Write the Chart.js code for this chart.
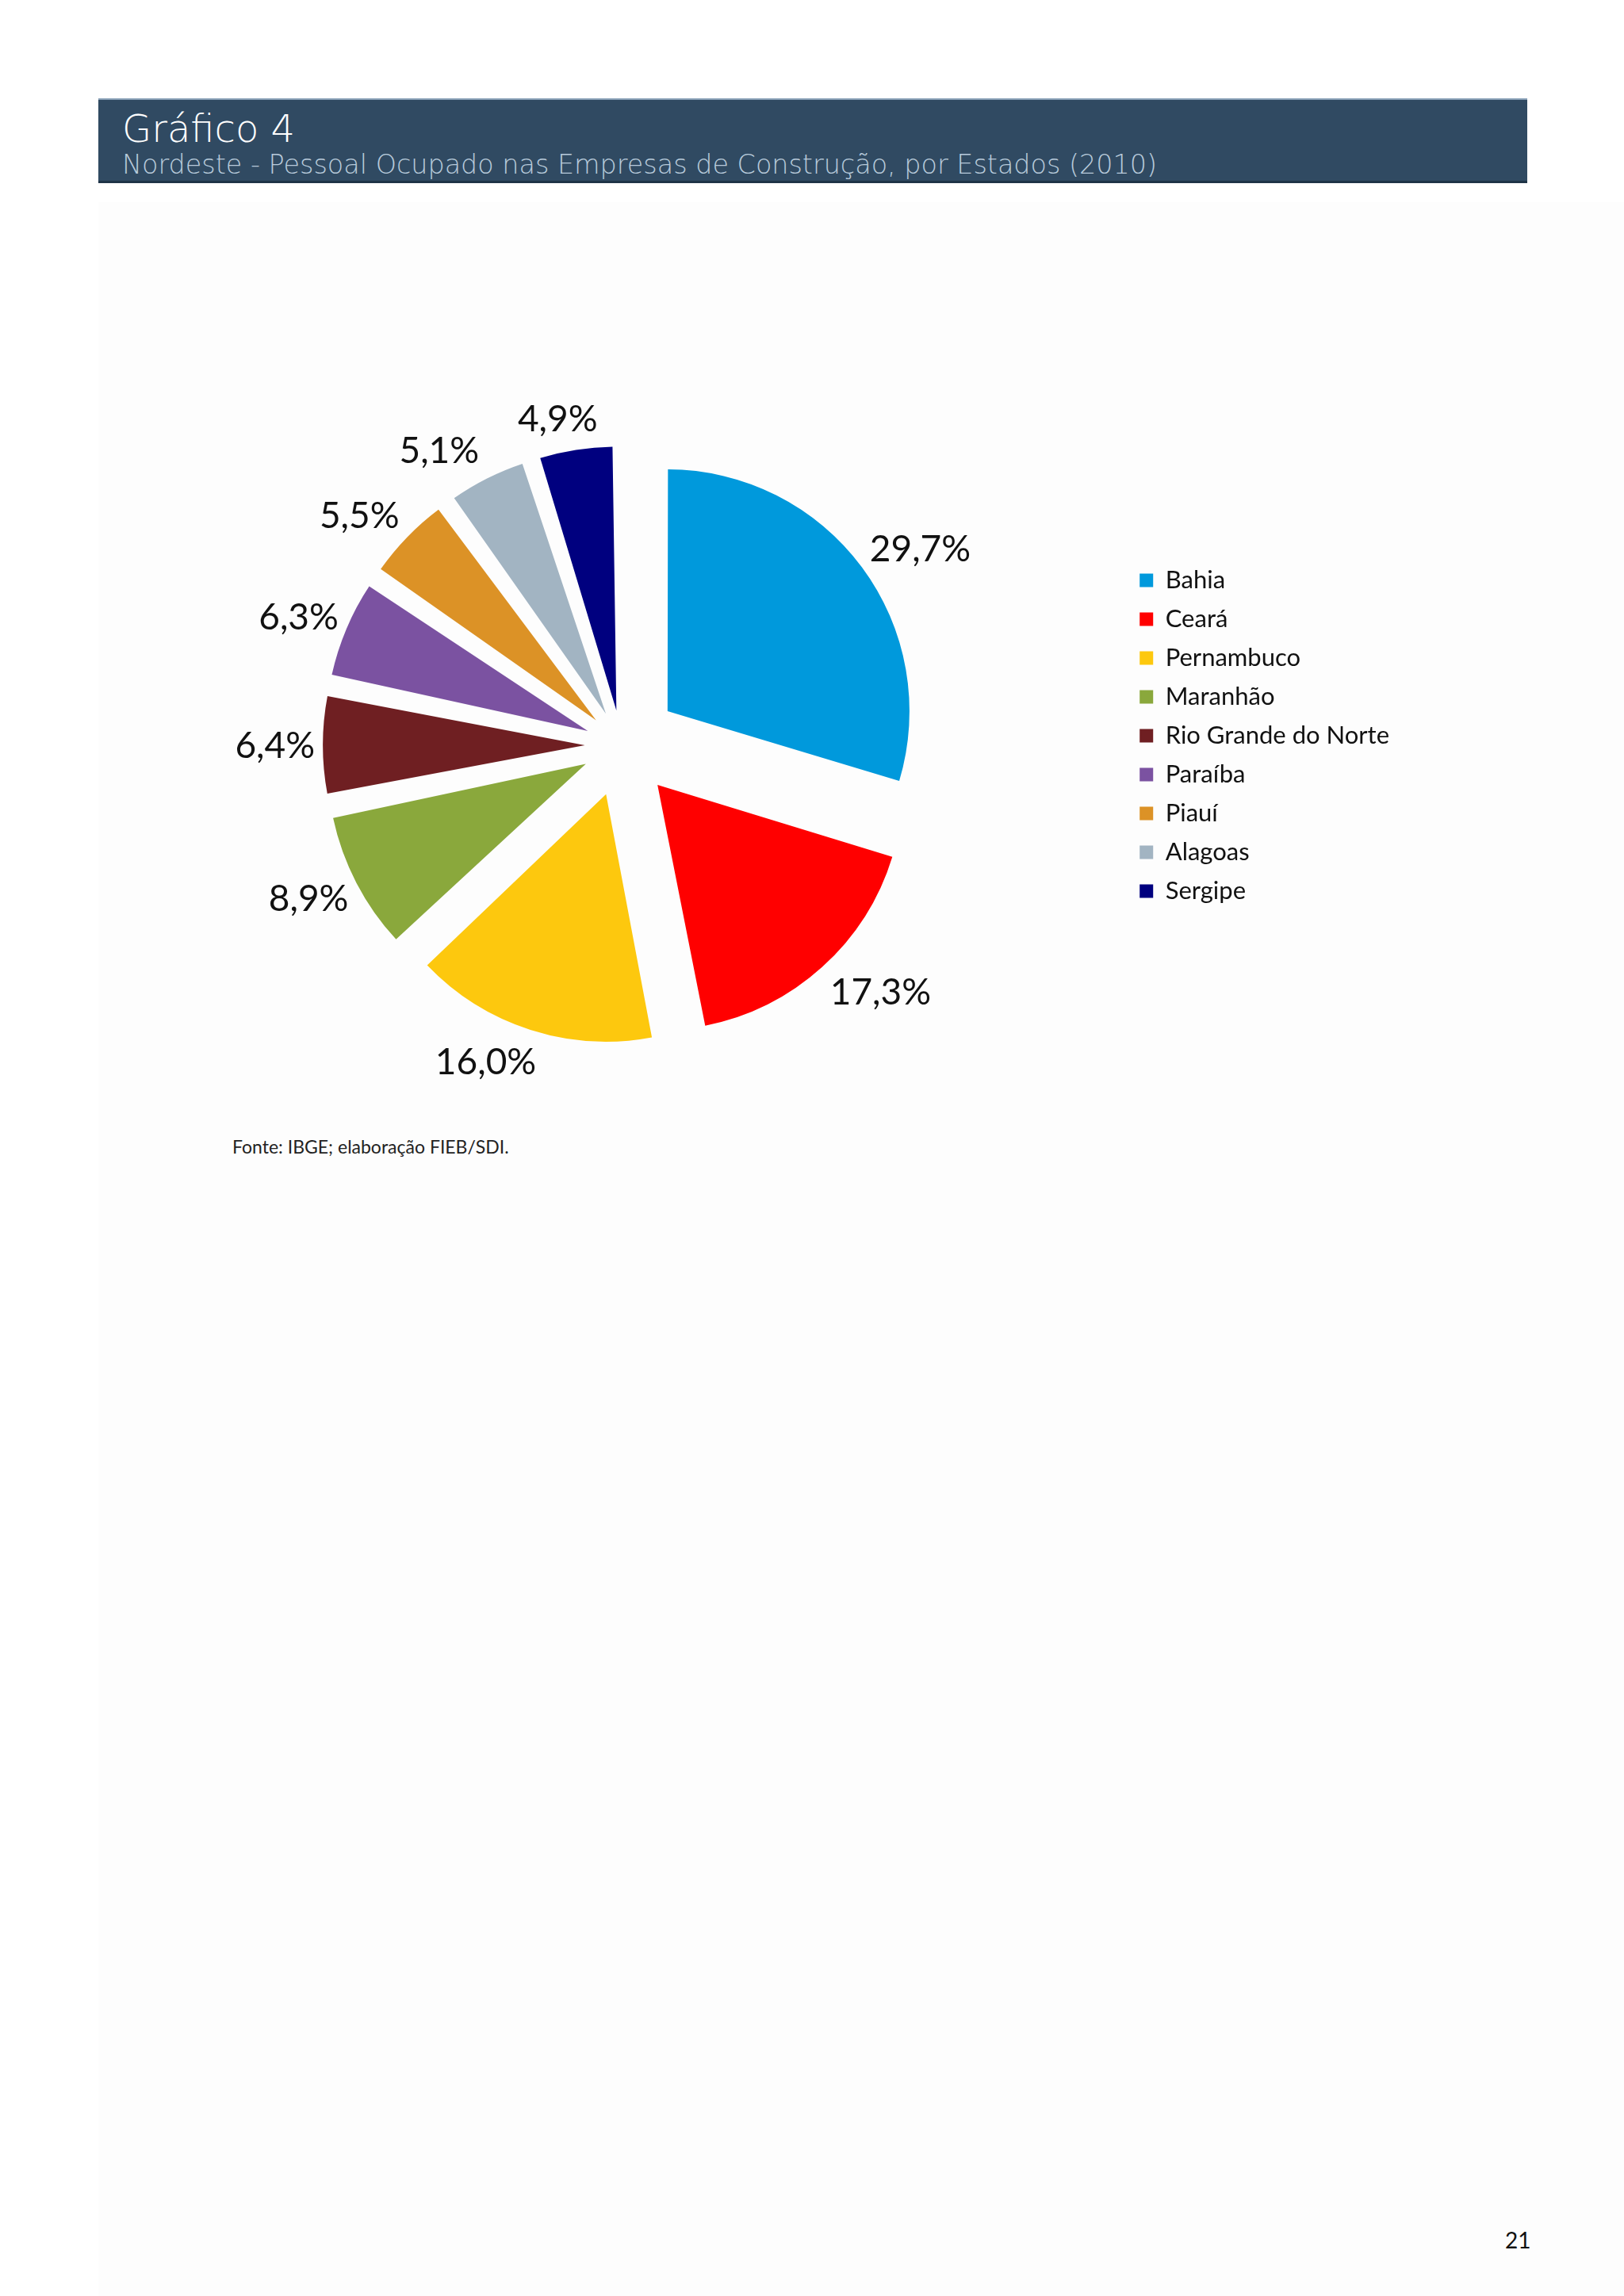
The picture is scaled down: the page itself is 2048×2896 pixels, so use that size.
<!DOCTYPE html>
<html lang="pt-BR">
<head>
<meta charset="utf-8">
<title>Gráfico 4</title>
<script src="https://cdn.jsdelivr.net/npm/chart.js@4.4.1/dist/chart.umd.min.js"></script>
<style>
    body { margin: 0; width: 2048px; height: 2896px; background: #ffffff; position: relative; overflow: hidden; }
    .panel { position: absolute; left: 124px; top: 255px; right: 0; bottom: 0; background: #fdfdfd; }
    .header {
        position: absolute; left: 124px; top: 124px; width: 1802px; height: 102px;
        background: #304a62; border-top: 2px solid #8aa1b8; border-bottom: 3px solid #1f3447;
    }
    .header .title {
        position: absolute; left: 30px; top: 10px; color: #ffffff;
        font-family: "DejaVu Sans"; font-weight: 200; font-size: 48px; line-height: 52px;
    }
    .header .subtitle {
        position: absolute; left: 30px; top: 64px; color: #b8cadb;
        font-family: "DejaVu Sans"; font-weight: 200; font-size: 33.4px; line-height: 36px; white-space: nowrap;
    }
    #chart { position: absolute; left: 131px; top: 500px; }
    .fonte { position: absolute; left: 293px; top: 1432px; font-family: Lato; font-size: 23px; color: #222; }
    .page { position: absolute; left: 1898px; top: 2808px; font-family: Lato; font-size: 28px; color: #111; }
</style>
</head>
<body>
<div class="panel"></div>
<div class="header">
    <div class="title">Gráfico 4</div>
    <div class="subtitle">Nordeste - Pessoal Ocupado nas Empresas de Construção, por Estados (2010)</div>
</div>
<canvas id="chart" width="1631" height="880"></canvas>
<div class="fonte">Fonte: IBGE; elaboração FIEB/SDI.</div>
<div class="page">21</div>

<script>
const estados = ['Bahia', 'Ceará', 'Pernambuco', 'Maranhão', 'Rio Grande do Norte', 'Paraíba', 'Piauí', 'Alagoas', 'Sergipe'];
const percentuais = [29.7, 17.3, 16.0, 8.9, 6.4, 6.3, 5.5, 5.1, 4.9];
const cores = ['#0099dc', '#ff0000', '#fdc80e', '#8aa83c', '#6f1f22', '#7b52a1', '#dc9226', '#a2b4c2', '#00007f'];

// distância (px) que cada fatia se afasta do centro
const afastamento = 75;

function formatPct(v) {
    return v.toFixed(1).replace('.', ',') + '%';
}

// o ArcElement do Chart.js desloca (offset/4)*(2 - sin(ângulo)); aqui se inverte isso
// para que todas as fatias fiquem à mesma distância do centro
function offsetFatia(context) {
    const total = percentuais.reduce((a, b) => a + b, 0);
    const ang = percentuais[context.dataIndex] / total * Math.PI * 2;
    return 4 * afastamento / (2 - Math.sin(Math.min(Math.PI, ang)));
}

// rótulos de porcentagem fora de cada fatia, encostados no ponto médio do arco
const rotulosPlugin = {
    id: 'rotulos',
    afterDatasetsDraw(chart) {
        const ctx = chart.ctx;
        const meta = chart.getDatasetMeta(0);
        ctx.save();
        ctx.font = '46px Lato';
        ctx.fillStyle = '#111111';
        ctx.textAlign = 'center';
        ctx.textBaseline = 'middle';
        meta.data.forEach(function (arc, i) {
            const p = arc.getProps(['x', 'y', 'startAngle', 'endAngle', 'outerRadius'], true);
            const mid = (p.startAngle + p.endAngle) / 2;
            const cx = Math.cos(mid);
            const cy = Math.sin(mid);
            const text = formatPct(percentuais[i]);
            const w = ctx.measureText(text).width;
            const ax = p.x + cx * (afastamento + p.outerRadius);
            const ay = p.y + cy * (afastamento + p.outerRadius);
            const sx = Math.sign(cx) * Math.min(1, Math.abs(cx) * 2.5);
            ctx.fillText(text, ax + sx * (w / 2 + 10), ay + cy * 41 + 2);
        });
        ctx.restore();
    }
};

// sobe um pouco a legenda em relação ao centro da pizza
const legendaPlugin = {
    id: 'legendaAjuste',
    afterLayout(chart) {
        chart.legend.top -= 12;
        chart.legend.bottom -= 12;
    }
};

const ctx = document.getElementById('chart');
new Chart(ctx, {
    type: 'pie',
    data: {
        labels: estados,
        datasets: [{
            data: percentuais,
            backgroundColor: cores,
            borderWidth: 0,
            offset: offsetFatia,
            radius: 302
        }]
    },
    options: {
        responsive: false,
        animation: false,
        devicePixelRatio: 1,
        layout: { padding: { left: 18 } },
        plugins: {
            legend: {
                position: 'right',
                labels: {
                    boxWidth: 17,
                    boxHeight: 17,
                    padding: 18,
                    color: '#111111',
                    font: { family: 'Lato', size: 31 }
                }
            },
            tooltip: { enabled: false }
        }
    },
    plugins: [rotulosPlugin, legendaPlugin]
});
</script>
</body>
</html>
